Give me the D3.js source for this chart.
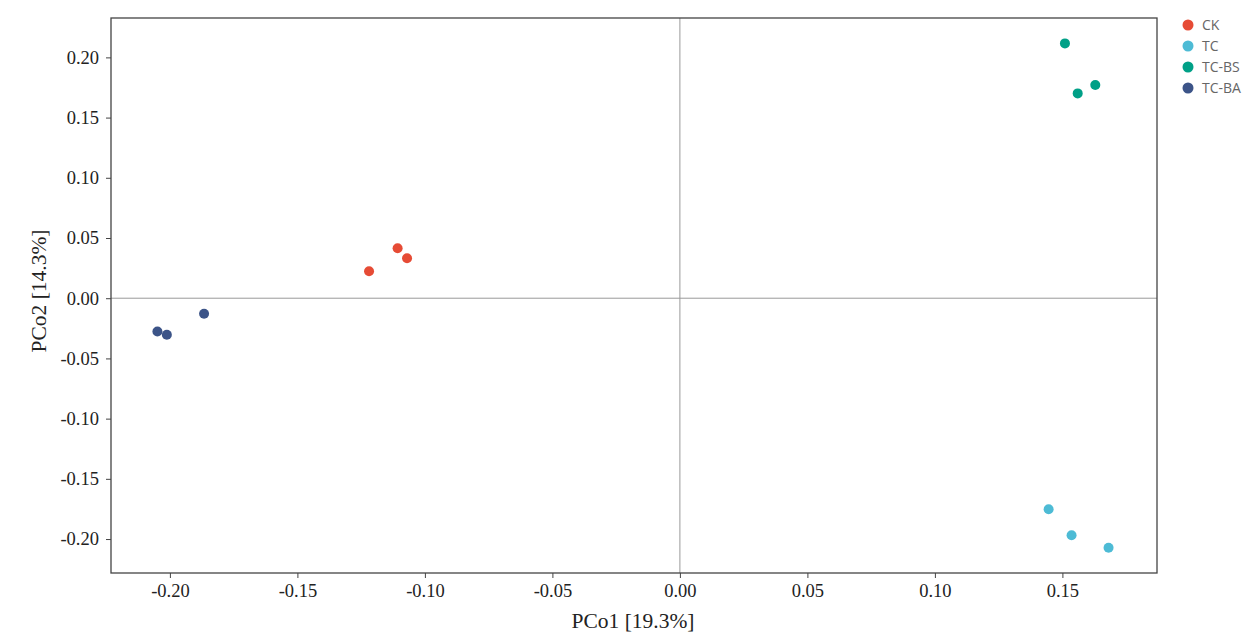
<!DOCTYPE html>
<html>
<head>
<meta charset="utf-8">
<script src="https://cdn.jsdelivr.net/npm/d3@7"></script>
<style>
  body { margin: 0; background: #fff; }
  .axis text { font-family: "Liberation Serif", "Times New Roman", serif; font-size: 18.5px; fill: #222; }
  .axis path, .axis line { stroke: #444; }
  .title { font-family: "Liberation Serif", "Times New Roman", serif; font-size: 21.5px; fill: #222; }
  .legendLabel { font-family: "Open Sans", sans-serif; font-size: 14px; fill: #666; }
</style>
</head>
<body>
<div id="graphicContainer"></div>
<script>
var groups = ["CK", "TC", "TC-BS", "TC-BA"]
var colors = ["#e64b35", "#4dbbd5", "#00a087", "#3c5488"]

// PCo1 / PCo2 scores per sample
var sampleGroup = ["CK", "CK", "CK", "TC", "TC", "TC", "TC-BS", "TC-BS", "TC-BS", "TC-BA", "TC-BA", "TC-BA"]
var pco1 = [-0.1219, -0.1107, -0.1070, 0.1446, 0.1536, 0.1681, 0.1510, 0.1629, 0.1560, -0.2049, -0.2012, -0.1866]
var pco2 = [0.0224, 0.0415, 0.0332, -0.1753, -0.1969, -0.2073, 0.2116, 0.1770, 0.1701, -0.0276, -0.0304, -0.0129]

var xTicks = [-0.20, -0.15, -0.10, -0.05, 0.00, 0.05, 0.10, 0.15]
var yTicks = [-0.20, -0.15, -0.10, -0.05, 0.00, 0.05, 0.10, 0.15, 0.20]

var width = 1259, height = 644
var margin = {top: 18, right: 102, bottom: 71, left: 111}

var svg = d3.select("#graphicContainer").append("svg")
	.attr("width", width)
	.attr("height", height)

var x = d3.scaleLinear()
	.domain([-0.2231, 0.1871])
	.range([margin.left, width - margin.right])

var y = d3.scaleLinear()
	.domain([-0.2282, 0.2327])
	.range([height - margin.bottom, margin.top])

var color = d3.scaleOrdinal().domain(groups).range(colors)

// plain hyphen for negatives, like the original
var fmt = d => d3.format(".2f")(d).replace("\u2212", "-")

// zero lines
svg.append("line")
	.attr("x1", x(0)).attr("x2", x(0))
	.attr("y1", y.range()[1]).attr("y2", y.range()[0])
	.attr("stroke", "#999").attr("stroke-width", 1)

svg.append("line")
	.attr("x1", x.range()[0]).attr("x2", x.range()[1])
	.attr("y1", y(0)).attr("y2", y(0))
	.attr("stroke", "#999").attr("stroke-width", 1)

// frame
svg.append("rect")
	.attr("x", x.range()[0])
	.attr("y", y.range()[1])
	.attr("width", x.range()[1] - x.range()[0])
	.attr("height", y.range()[0] - y.range()[1])
	.attr("fill", "none")
	.attr("stroke", "#444")
	.attr("stroke-width", 1.3)

svg.append("g")
	.attr("class", "axis")
	.attr("transform", "translate(0," + y.range()[0] + ")")
	.call(d3.axisBottom(x).tickValues(xTicks).tickFormat(fmt).tickSizeOuter(0).tickSize(5).tickPadding(6))
	.call(g => g.select(".domain").remove())

svg.append("g")
	.attr("class", "axis")
	.attr("transform", "translate(" + x.range()[0] + ",0)")
	.call(d3.axisLeft(y).tickValues(yTicks).tickFormat(fmt).tickSizeOuter(0).tickSize(5).tickPadding(7))
	.call(g => g.select(".domain").remove())

// axis titles
svg.append("text")
	.attr("class", "title")
	.attr("x", 633)
	.attr("y", 628)
	.attr("text-anchor", "middle")
	.text("PCo1 [19.3%]")

svg.append("text")
	.attr("class", "title")
	.attr("transform", "translate(46,291) rotate(-90)")
	.attr("text-anchor", "middle")
	.text("PCo2 [14.3%]")

// points
svg.selectAll("circle.pt")
	.data(d3.range(pco1.length))
	.enter()
	.append("circle")
	.attr("class", "pt")
	.attr("cx", i => x(pco1[i]))
	.attr("cy", i => y(pco2[i]))
	.attr("r", 5)
	.attr("fill", i => color(sampleGroup[i]))

// legend
var legend = svg.append("g").attr("transform", "translate(1188,25)")

var item = legend.selectAll("g")
	.data(groups)
	.enter()
	.append("g")
	.attr("transform", (d, i) => "translate(0," + i * 21 + ")")

item.append("circle")
	.attr("r", 5.5)
	.attr("fill", d => color(d))

item.append("text")
	.attr("class", "legendLabel")
	.attr("x", 14)
	.attr("y", 5)
	.text(d => d)
</script>
</body>
</html>
